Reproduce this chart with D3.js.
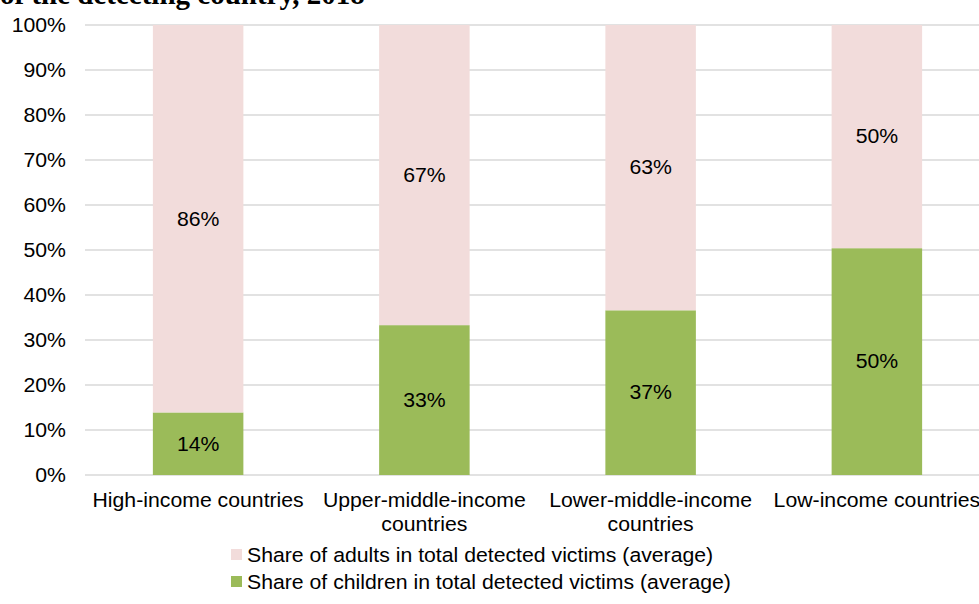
<!DOCTYPE html>
<html><head><meta charset="utf-8">
<script src="https://cdn.jsdelivr.net/npm/d3@7"></script>
<style>body{margin:0;background:#fff}svg{display:block}</style>
</head><body>
<svg id="c" width="979" height="604"></svg>
<script>
const categories = [["High-income countries"],["Upper-middle-income","countries"],["Lower-middle-income","countries"],["Low-income countries"]];
const children = [13.9, 33.3, 36.6, 50.4];
const adults = [86.1, 66.7, 63.4, 49.6];
const childLabels = ["14%","33%","37%","50%"];
const adultLabels = ["86%","67%","63%","50%"];
const yTicks = [0,10,20,30,40,50,60,70,80,90,100];
const seriesNames = ["Share of adults in total detected victims (average)","Share of children in total detected victims (average)"];
const colors = {adult:"#f2dcdb", child:"#9bbb59"};

const svg = d3.select("#c");
const font = "'Liberation Sans', Arial, sans-serif";
const FS = 19.5, SX = 1.09;
const tr = (px,py)=>`translate(${px},${py}) scale(${SX},1)`;
const x = d3.scaleBand().domain(d3.range(categories.length)).range([85, 990]).paddingInner(0.6).paddingOuter(0.3);
const y = d3.scaleLinear().domain([0,100]).range([475,25]);

svg.append("text").attr("x",0).attr("y",4).attr("font-family","'Liberation Serif', 'Times New Roman', serif")
  .attr("font-weight","bold").attr("font-size",29).text("of the detecting country, 2018");

svg.append("g").selectAll("line").data(yTicks).join("line")
  .attr("x1",85).attr("x2",979).attr("y1",d=>y(d)).attr("y2",d=>y(d))
  .attr("stroke","#d9d9d9").attr("stroke-width",1.5);

svg.append("g").selectAll("text").data(yTicks).join("text")
  .attr("transform",d=>tr(66,y(d))).attr("dy","0.35em").attr("text-anchor","end")
  .attr("font-family",font).attr("font-size",FS).attr("fill","#000").text(d=>d+"%");

const g = svg.append("g");
g.selectAll("rect.c").data(children).join("rect").attr("class","c")
  .attr("x",(d,i)=>x(i)).attr("width",x.bandwidth()).attr("y",d=>y(d)).attr("height",d=>y(0)-y(d)).attr("fill",colors.child);
g.selectAll("rect.a").data(adults).join("rect").attr("class","a")
  .attr("x",(d,i)=>x(i)).attr("width",x.bandwidth()).attr("y",(d,i)=>y(children[i]+d)).attr("height",(d,i)=>y(children[i])-y(children[i]+d)).attr("fill",colors.adult);

g.selectAll("text.cl").data(children).join("text").attr("class","cl")
  .attr("transform",(d,i)=>tr(x(i)+x.bandwidth()/2,y(d/2))).attr("dy","0.35em").attr("text-anchor","middle")
  .attr("font-family",font).attr("font-size",FS).text((d,i)=>childLabels[i]);
g.selectAll("text.al").data(adults).join("text").attr("class","al")
  .attr("transform",(d,i)=>tr(x(i)+x.bandwidth()/2,y(children[i]+d/2))).attr("dy","0.35em").attr("text-anchor","middle")
  .attr("font-family",font).attr("font-size",FS).text((d,i)=>adultLabels[i]);

const cl = svg.append("g").selectAll("text").data(categories).join("text")
  .attr("transform",(d,i)=>tr(x(i)+x.bandwidth()/2,507)).attr("text-anchor","middle")
  .attr("font-family",font).attr("font-size",FS);
cl.selectAll("tspan").data(d=>d).join("tspan").attr("x",0)
  .attr("dy",(d,j)=>j?24:0).text(d=>d);

const leg = svg.append("g").selectAll("g").data(seriesNames).join("g")
  .attr("transform",(d,i)=>`translate(231,${555+i*27})`);
leg.append("rect").attr("x",0).attr("y",-6).attr("width",11).attr("height",11).attr("fill",(d,i)=>i?colors.child:colors.adult);
leg.append("text").attr("transform",tr(16,0)).attr("dy","0.35em").attr("font-family",font).attr("font-size",FS).text(d=>d);
</script>
</body></html>
